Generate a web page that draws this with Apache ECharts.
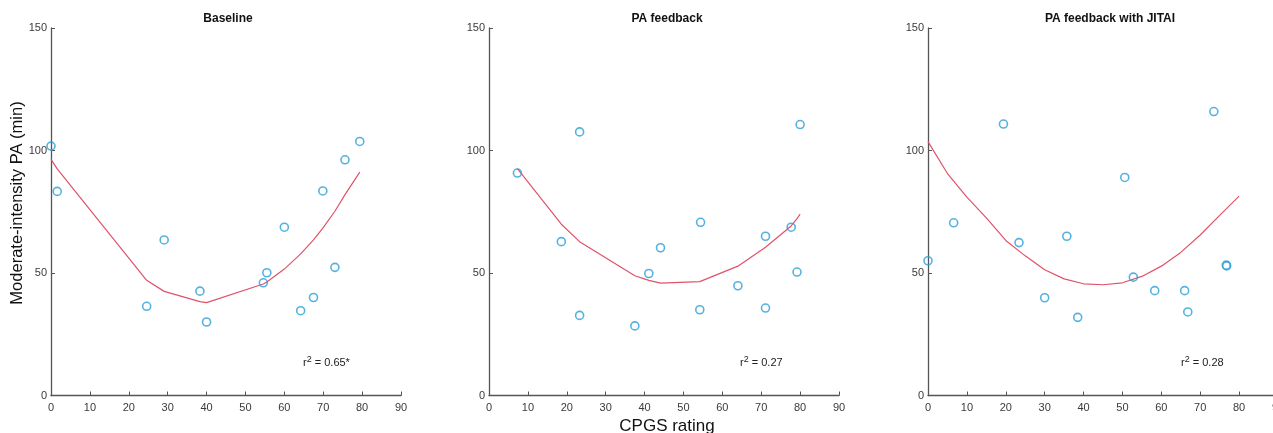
<!DOCTYPE html>
<html>
<head>
<meta charset="utf-8">
<script src="https://cdn.jsdelivr.net/npm/echarts@6/dist/echarts.min.js"></script>
<style>
html,body{margin:0;padding:0;background:#fff;}
#chart{width:1273px;height:433px;}
</style>
</head>
<body>
<div id="chart"></div>
<script>
// ---- Data ----
const panelTitles = ['Baseline', 'PA feedback', 'PA feedback with JITAI'];
const r2Values = ['0.65*', '0.27', '0.28'];

const baselineX = [0, 1.6, 24.6, 29.1, 38.3, 40.0, 54.6, 55.5, 60.0, 64.2, 67.5, 69.9, 73.0, 75.6, 79.4];
const baselineY = [101.8, 83.3, 36.4, 63.5, 42.6, 30.0, 46.0, 50.1, 68.7, 34.6, 40.0, 83.5, 52.3, 96.2, 103.7];
const baselineFitX = [0, 1.6, 24.6, 29.1, 38.3, 40.0, 54.6, 55.5, 60.0, 64.2, 67.5, 69.9, 73.0, 75.6, 79.4];
const baselineFitY = [96.4, 92.5, 47.0, 42.5, 38.3, 37.9, 45.5, 46.3, 51.6, 57.8, 63.5, 68.3, 75.2, 82.0, 91.2];

const feedbackX = [7.3, 18.6, 23.3, 23.3, 37.5, 41.1, 44.1, 54.2, 54.4, 64.0, 71.1, 71.1, 77.7, 79.2, 80.0];
const feedbackY = [90.8, 62.8, 107.6, 32.7, 28.4, 49.8, 60.3, 35.0, 70.7, 44.8, 65.0, 35.7, 68.7, 50.4, 110.6];
const feedbackFitX = [7.3, 18.6, 23.3, 37.5, 41.1, 44.1, 54.2, 54.4, 64.0, 71.1, 77.7, 79.2, 80.0];
const feedbackFitY = [92.6, 69.9, 62.8, 48.9, 47.0, 45.9, 46.5, 46.6, 52.8, 60.5, 69.2, 72.2, 74.0];

const jitaiX = [0, 6.6, 19.4, 23.4, 30.0, 35.7, 38.5, 50.6, 52.8, 58.3, 66.0, 66.8, 73.5, 76.7, 76.8];
const jitaiY = [55.0, 70.5, 110.8, 62.4, 39.9, 65.0, 31.9, 89.0, 48.3, 42.8, 42.8, 34.1, 115.9, 53.2, 52.9];
const jitaiFitX = [0, 5, 10, 15, 20, 25, 30, 35, 40, 45, 50, 55, 60, 65, 70, 75, 80];
const jitaiFitY = [103.6, 90.6, 81.0, 72.5, 63.3, 57.0, 51.3, 47.6, 45.6, 45.2, 46.0, 48.6, 52.8, 58.4, 65.5, 73.5, 81.4];

const xTickMin = 0, xTickMax = 90, xTickStep = 10;
const yTickMin = 0, yTickMax = 150, yTickStep = 50;

// ---- Layout / style ----
const gridLefts = [51, 489, 928];
const gridTop = 28, gridHeight = 367.5, gridWidth = 350;
const axisColor = '#555555';
const labelColor = '#3a3a3a';
const pointColor = '#2a9fd8';
const fitColor = '#e0526b';
const font = 'Arial, "Liberation Sans", Helvetica, sans-serif';

const scatterData = [[baselineX, baselineY], [feedbackX, feedbackY], [jitaiX, jitaiY]];
const fitData = [[baselineFitX, baselineFitY], [feedbackFitX, feedbackFitY], [jitaiFitX, jitaiFitY]];

const zip = (xs, ys) => xs.map((x, i) => [x, ys[i]]);

const grids = [], xAxes = [], yAxes = [], series = [], titles = [], graphics = [];
const titleCenters = [228, 667, 1110];
const r2Lefts = [303, 740, 1181];

gridLefts.forEach((left, i) => {
  grids.push({ left: left, top: gridTop, width: gridWidth, height: gridHeight, containLabel: false, outerBoundsMode: 'none' });
  xAxes.push({
    type: 'value', gridIndex: i, min: xTickMin, max: xTickMax, interval: xTickStep,
    axisLine: { show: true, onZero: false, lineStyle: { color: axisColor, width: 1.3 } },
    axisTick: { show: true, inside: true, length: 4, lineStyle: { color: axisColor, width: 1 } },
    axisLabel: { color: labelColor, fontSize: 11, fontFamily: font, margin: 7, showMaxLabel: true, showMinLabel: true },
    splitLine: { show: false }
  });
  yAxes.push({
    type: 'value', gridIndex: i, min: yTickMin, max: yTickMax, interval: yTickStep,
    axisLine: { show: true, onZero: false, lineStyle: { color: axisColor, width: 1.3 } },
    axisTick: { show: true, inside: true, length: 4, lineStyle: { color: axisColor, width: 1 } },
    axisLabel: { color: labelColor, fontSize: 11, fontFamily: font, margin: 4 },
    splitLine: { show: false }
  });
  series.push({
    type: 'line', xAxisIndex: i, yAxisIndex: i,
    data: zip(fitData[i][0], fitData[i][1]),
    showSymbol: false, symbol: 'none', silent: true,
    lineStyle: { color: fitColor, width: 1.2 },
    z: 2
  });
  series.push({
    type: 'scatter', xAxisIndex: i, yAxisIndex: i,
    data: zip(scatterData[i][0], scatterData[i][1]),
    symbol: 'circle', symbolSize: 8,
    itemStyle: { color: 'rgba(0,0,0,0)', borderColor: pointColor, borderWidth: 1.6 },
    z: 3
  });
  titles.push({
    text: panelTitles[i], left: titleCenters[i], top: 13, textAlign: 'center',
    padding: 0,
    textStyle: { fontSize: 12, fontWeight: 'bold', color: '#111', fontFamily: font }
  });
  graphics.push({
    type: 'text', left: r2Lefts[i], top: 355,
    style: {
      text: 'r{sup|2} = ' + r2Values[i],
      font: '11px ' + font,
      fill: '#222',
      rich: { sup: { fontSize: 9, verticalAlign: 'top', padding: [0, 0, 7, 0], fill: '#222' } }
    }
  });
});

graphics.push({
  type: 'text', x: 17, y: 203, rotation: Math.PI / 2,
  style: { text: 'Moderate-intensity PA (min)', font: '16.5px ' + font, fill: '#111', textAlign: 'center', textVerticalAlign: 'middle' }
});
graphics.push({
  type: 'text', x: 667, y: 426,
  style: { text: 'CPGS rating', font: '17px ' + font, fill: '#111', textAlign: 'center', textVerticalAlign: 'middle' }
});

const chart = echarts.init(document.getElementById('chart'), null, { renderer: 'canvas' });
chart.setOption({
  backgroundColor: '#ffffff',
  animation: false,
  title: titles,
  grid: grids,
  xAxis: xAxes,
  yAxis: yAxes,
  series: series,
  graphic: graphics
});
</script>
</body>
</html>
